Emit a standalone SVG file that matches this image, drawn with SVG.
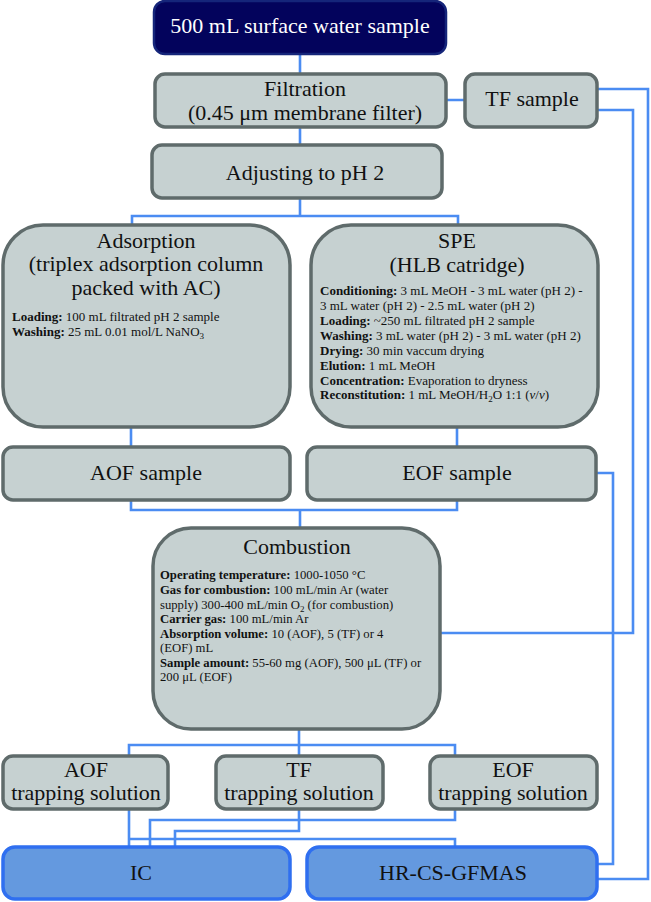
<svg xmlns="http://www.w3.org/2000/svg" width="651" height="902" viewBox="0 0 651 902">
<style>
text{font-family:"Liberation Serif","Times New Roman",serif;fill:#111;}
.h{font-size:22px;text-anchor:middle;}
.s{font-size:13px;}
.t{font-size:12.7px;}
.b{font-weight:bold;}
.box{fill:#c6d1d1;stroke:#5f6b6b;stroke-width:3.5;}
.top{fill:#03035c;stroke:#15257a;stroke-width:2.5;}
.inst{fill:#6499df;stroke:#2f6ff0;stroke-width:3.5;}
.c{fill:none;stroke:#4b8cf2;stroke-width:2.6;}
</style>
<g id="connectors">
<path class="c" d="M300,54V74 M300,127V145 M446,100H465"/>
<path class="c" d="M300,198V216 M132,225V216H458V225"/>
<path class="c" d="M131,427V447 M457,427V447"/>
<path class="c" d="M131,500V510H457V500 M300,510V528"/>
<path class="c" d="M597,89H648V879H597"/>
<path class="c" d="M597,110H633V633H440"/>
<path class="c" d="M596,473H613V864H597"/>
<path class="c" d="M299,729V756 M129,756V745H455V756"/>
<path class="c" d="M129,809V847 M129,839H455V847"/>
<path class="c" d="M299,809V831H175V847"/>
<path class="c" d="M455,809V820H150V847"/>
</g>
<g id="sample">
<rect class="top" x="154" y="1" width="292" height="53" rx="11"/>
<text class="h" x="300" y="33" style="fill:#fff">500 mL surface water sample</text>
</g>
<g id="filtration">
<rect class="box" x="155" y="74" width="291" height="53" rx="10"/>
<text class="h" x="305" y="96">Filtration</text>
<text class="h" x="305" y="120">(0.45 μm membrane filter)</text>
</g>
<g id="tf-sample">
<rect class="box" x="465" y="74" width="132" height="53" rx="10"/>
<text class="h" x="532" y="106">TF sample</text>
</g>
<g id="adjust">
<rect class="box" x="152" y="145" width="290" height="53" rx="10"/>
<text class="h" x="305" y="180">Adjusting to pH 2</text>
</g>
<g id="adsorption">
<rect class="box" x="3" y="225" width="287" height="202" rx="40"/>
<text class="h" x="146" y="248">Adsorption</text>
<text class="h" x="146" y="271">(triplex adsorption column</text>
<text class="h" x="146" y="295">packed with AC)</text>
<text class="s" x="12" y="321"><tspan class="b">Loading:</tspan> 100 mL filtrated pH 2 sample</text>
<text class="s" x="12" y="336"><tspan class="b">Washing:</tspan> 25 mL 0.01 mol/L NaNO<tspan font-size="9" dy="3">3</tspan></text>
</g>
<g id="spe">
<rect class="box" x="311" y="225" width="287" height="202" rx="40"/>
<text class="h" x="457" y="248">SPE</text>
<text class="h" x="457" y="272">(HLB catridge)</text>
<text class="s" x="320" y="295"><tspan class="b">Conditioning:</tspan> 3 mL MeOH - 3 mL water (pH 2) -</text>
<text class="s" x="320" y="310">3 mL water (pH 2) - 2.5 mL water (pH 2)</text>
<text class="s" x="320" y="325"><tspan class="b">Loading:</tspan> ~250 mL filtrated pH 2 sample</text>
<text class="s" x="320" y="340"><tspan class="b">Washing:</tspan> 3 mL water (pH 2) - 3 mL water (pH 2)</text>
<text class="s" x="320" y="355"><tspan class="b">Drying:</tspan> 30 min vaccum drying</text>
<text class="s" x="320" y="370"><tspan class="b">Elution:</tspan> 1 mL MeOH</text>
<text class="s" x="320" y="385"><tspan class="b">Concentration:</tspan> Evaporation to dryness</text>
<text class="s" x="320" y="399"><tspan class="b">Reconstitution:</tspan> 1 mL MeOH/H<tspan font-size="9" dy="3">2</tspan><tspan dy="-3">O 1:1 (</tspan><tspan font-style="italic">v</tspan>/<tspan font-style="italic">v</tspan>)</text>
</g>
<g id="aof-sample">
<rect class="box" x="3" y="447" width="287" height="53" rx="10"/>
<text class="h" x="146" y="480">AOF sample</text>
</g>
<g id="eof-sample">
<rect class="box" x="307" y="447" width="289" height="53" rx="10"/>
<text class="h" x="457" y="480">EOF sample</text>
</g>
<g id="combustion">
<rect class="box" x="153" y="528" width="287" height="201" rx="38"/>
<text class="h" x="297" y="554">Combustion</text>
<text class="t" x="160" y="579"><tspan class="b">Operating temperature:</tspan> 1000-1050 °C</text>
<text class="t" x="160" y="594"><tspan class="b">Gas for combustion:</tspan> 100 mL/min Ar (water</text>
<text class="t" x="160" y="608.5">supply) 300-400 mL/min O<tspan font-size="9" dy="3">2</tspan><tspan dy="-3"> (for combustion)</tspan></text>
<text class="t" x="160" y="623"><tspan class="b">Carrier gas:</tspan> 100 mL/min Ar</text>
<text class="t" x="160" y="637.5"><tspan class="b">Absorption volume:</tspan> 10 (AOF), 5 (TF) or 4</text>
<text class="t" x="160" y="652">(EOF) mL</text>
<text class="t" x="160" y="666.5"><tspan class="b">Sample amount:</tspan> 55-60 mg (AOF), 500 μL (TF) or</text>
<text class="t" x="160" y="681">200 μL (EOF)</text>
</g>
<g id="aof-trap">
<rect class="box" x="3" y="756" width="165" height="53" rx="10"/>
<text class="h" x="86" y="777">AOF</text>
<text class="h" x="86" y="800">trapping solution</text>
</g>
<g id="tf-trap">
<rect class="box" x="216" y="756" width="167" height="53" rx="10"/>
<text class="h" x="299" y="777">TF</text>
<text class="h" x="299" y="800">trapping solution</text>
</g>
<g id="eof-trap">
<rect class="box" x="430" y="756" width="167" height="53" rx="10"/>
<text class="h" x="513" y="777">EOF</text>
<text class="h" x="513" y="800">trapping solution</text>
</g>
<g id="ic">
<rect class="inst" x="3" y="847" width="287" height="52" rx="12"/>
<text class="h" x="141" y="880">IC</text>
</g>
<g id="hrcs">
<rect class="inst" x="307" y="847" width="290" height="52" rx="12"/>
<text class="h" x="453" y="880">HR-CS-GFMAS</text>
</g>
</svg>
